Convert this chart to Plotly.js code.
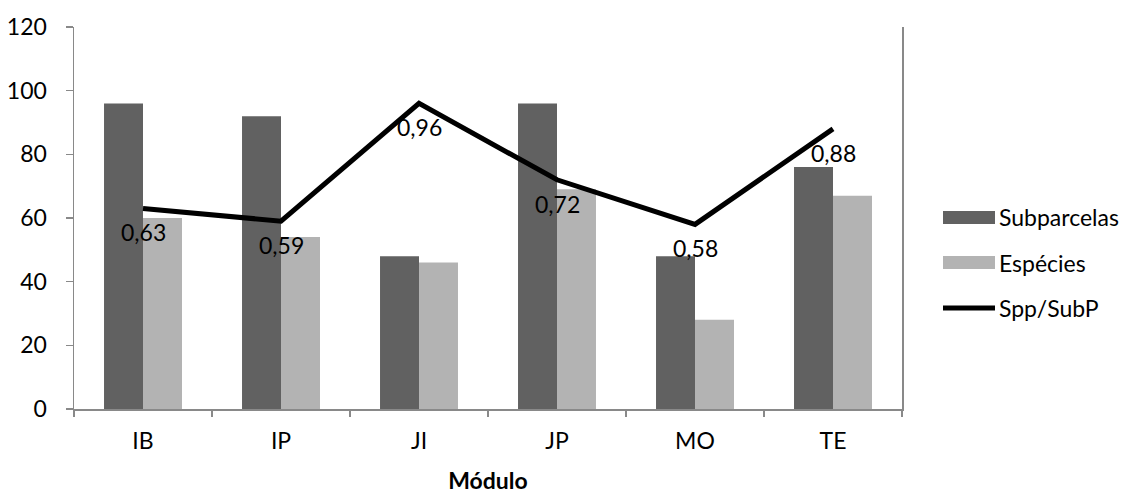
<!DOCTYPE html>
<html><head><meta charset="utf-8">
<script src="https://cdn.plot.ly/plotly-3.0.1.min.js"></script>
<style>html,body{margin:0;padding:0;background:#fff}#c{width:1133px;height:494px}</style>
</head><body><div id="c"></div>
<script>
const modulos = ['IB','IP','JI','JP','MO','TE'];
const subparcelas = [96, 92, 48, 96, 48, 76];
const especies = [60, 54, 46, 69, 28, 67];
const sppSubP = [0.63, 0.59, 0.96, 0.72, 0.58, 0.88];
const seriesNames = ['Subparcelas','Espécies','Spp/SubP'];

const FONT = 'Lato, Open Sans, sans-serif';
const FS = 23;
const dark = '#616161', light = '#b3b3b3', axisCol = '#898989';

// plot area in pixels
const L = 74, R = 902, T = 27, B = 409;
const px = x => (x - L) / (R - L);
const py = y => (B - y) / (B - T);

const traces = [
  {type:'bar', x:modulos, y:subparcelas, name:seriesNames[0], marker:{color:dark}, showlegend:false, hoverinfo:'skip'},
  {type:'bar', x:modulos, y:especies, name:seriesNames[1], marker:{color:light}, showlegend:false, hoverinfo:'skip'},
  {type:'scatter', mode:'lines', x:modulos, y:sppSubP, yaxis:'y2', name:seriesNames[2],
   line:{color:'#000', width:5}, showlegend:false, cliponaxis:false, hoverinfo:'skip'}
];

const shapes = [
  {type:'rect', xref:'paper', yref:'paper', x0:px(943), x1:px(995), y0:py(224), y1:py(211), fillcolor:dark, line:{width:0}},
  {type:'rect', xref:'paper', yref:'paper', x0:px(943), x1:px(995), y0:py(269), y1:py(256), fillcolor:light, line:{width:0}},
  {type:'line', xref:'paper', yref:'paper', x0:px(943), x1:px(995), y0:py(308), y1:py(308), line:{color:'#000', width:5}}
];
const annotations = seriesNames.map((n,i)=>({
  xref:'paper', yref:'paper', x:px(997), y:py([217,263,308][i]), text:n, showarrow:false,
  xanchor:'left', yanchor:'middle', font:{family:FONT, size:FS, color:'#000'}
})).concat(modulos.map((m,i)=>({
  xref:'x', yref:'y2', x:m, y:sppSubP[i], text:sppSubP[i].toFixed(2).replace('.',','), showarrow:false,
  xanchor:'center', yanchor:'middle', yshift:-24, font:{family:FONT, size:FS, color:'#000'}
})));

const layout = {
  width:1133, height:494,
  margin:{l:L, r:1133-R, t:T, b:494-B},
  paper_bgcolor:'#fff', plot_bgcolor:'#fff',
  font:{family:FONT, size:FS, color:'#000'},
  barmode:'group', bargap:0.435, bargroupgap:0,
  xaxis:{type:'category', showline:true, linecolor:axisCol, linewidth:1.5, ticks:'outside', tickson:'boundaries',
         ticklen:6, tickcolor:axisCol, tickwidth:1.5, showgrid:false, zeroline:false, ticklabelstandoff:11,
         tickfont:{family:FONT, size:FS}, title:{text:'<b>Módulo</b>', font:{family:FONT, size:FS}, standoff:22}},
  yaxis:{range:[0,120], dtick:20, showline:true, linecolor:axisCol, linewidth:1.5, ticks:'outside', ticklen:7,
         tickcolor:axisCol, tickwidth:1.5, showgrid:false, zeroline:false, ticklabelstandoff:14, tickfont:{family:FONT, size:FS}},
  yaxis2:{range:[0,1.2], overlaying:'y', side:'right', showline:true, linecolor:axisCol, linewidth:1.5,
          showticklabels:false, ticks:'', showgrid:false, zeroline:false},
  shapes, annotations, showlegend:false
};
Plotly.newPlot('c', traces, layout, {staticPlot:true});
</script></body></html>
